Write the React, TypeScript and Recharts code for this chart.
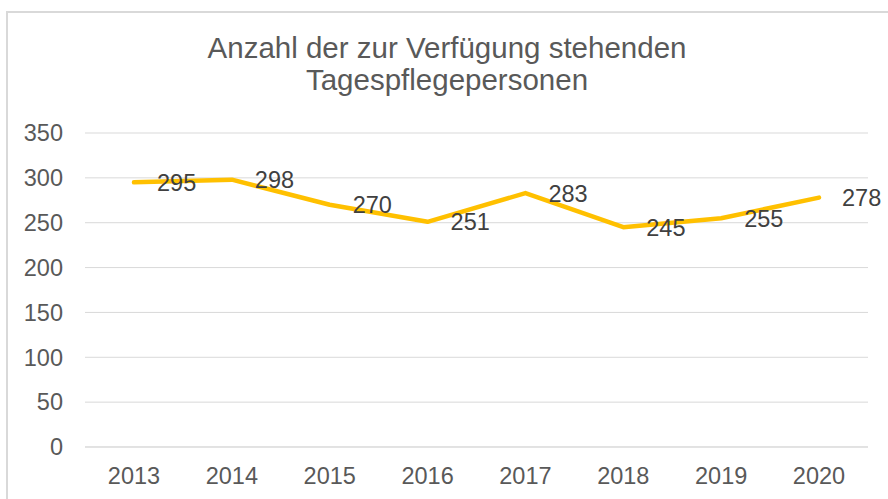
import React from 'react';
import { LineChart, Line, XAxis, YAxis, CartesianGrid, LabelList } from 'recharts';

const years = ['2013', '2014', '2015', '2016', '2017', '2018', '2019', '2020'];
const values = [295, 298, 270, 251, 283, 245, 255, 278];
const yTicks = [0, 50, 100, 150, 200, 250, 300, 350];
const titleLines = ['Anzahl der zur Verfügung stehenden', 'Tagespflegepersonen'];

const data = years.map((y, i) => ({ year: y, value: values[i] }));

const FONT = '"Liberation Sans", Arial, Helvetica, sans-serif';

const renderLabel = (props: any) => {
  const { x, y, value } = props;
  return (
    <text
      x={x + 23}
      y={y}
      dy="0.36em"
      textAnchor="start"
      fill="#404040"
      fontSize={23.5}
      fontFamily={FONT}
    >
      {value}
    </text>
  );
};

export default function App() {
  return (
    <div
      style={{
        position: 'absolute',
        left: 0,
        top: 0,
        width: 888,
        height: 499,
        overflow: 'hidden',
        background: '#ffffff',
        fontFamily: FONT,
      }}
    >
      <div
        style={{
          position: 'absolute',
          left: 6,
          top: 11,
          width: 900,
          height: 600,
          border: '2px solid #d9d9d9',
          boxSizing: 'border-box',
        }}
      />
      <div
        style={{
          position: 'absolute',
          left: 0,
          top: 32,
          width: 894,
          textAlign: 'center',
          fontSize: 29.5,
          lineHeight: '32px',
          color: '#595959',
          whiteSpace: 'nowrap',
        }}
      >
        {titleLines.map((t) => (
          <div key={t}>{t}</div>
        ))}
      </div>
      <div style={{ position: 'absolute', left: 0, top: 0 }}>
        <LineChart
          width={888}
          height={499}
          data={data}
          margin={{ top: 133, right: 20, bottom: 22, left: 0 }}
        >
          <CartesianGrid vertical={false} stroke="#d9d9d9" strokeWidth={1} />
          <XAxis
            dataKey="year"
            padding={{ left: 49, right: 49 }}
            axisLine={{ stroke: '#d9d9d9' }}
            tickLine={false}
            tickSize={0}
            tickMargin={20}
            height={30}
            tick={{ fill: '#595959', fontSize: 23.5, fontFamily: FONT }}
            interval={0}
          />
          <YAxis
            domain={[0, 350]}
            ticks={yTicks}
            axisLine={false}
            tickLine={false}
            tickSize={0}
            tickMargin={22}
            width={85}
            tick={{ fill: '#595959', fontSize: 23.5, fontFamily: FONT }}
            interval={0}
          />
          <Line
            type="linear"
            dataKey="value"
            stroke="#FFC000"
            strokeWidth={4.5}
            strokeLinecap="round"
            strokeLinejoin="round"
            dot={false}
            activeDot={false}
            isAnimationActive={false}
          >
            <LabelList dataKey="value" content={renderLabel} />
          </Line>
        </LineChart>
      </div>
    </div>
  );
}
